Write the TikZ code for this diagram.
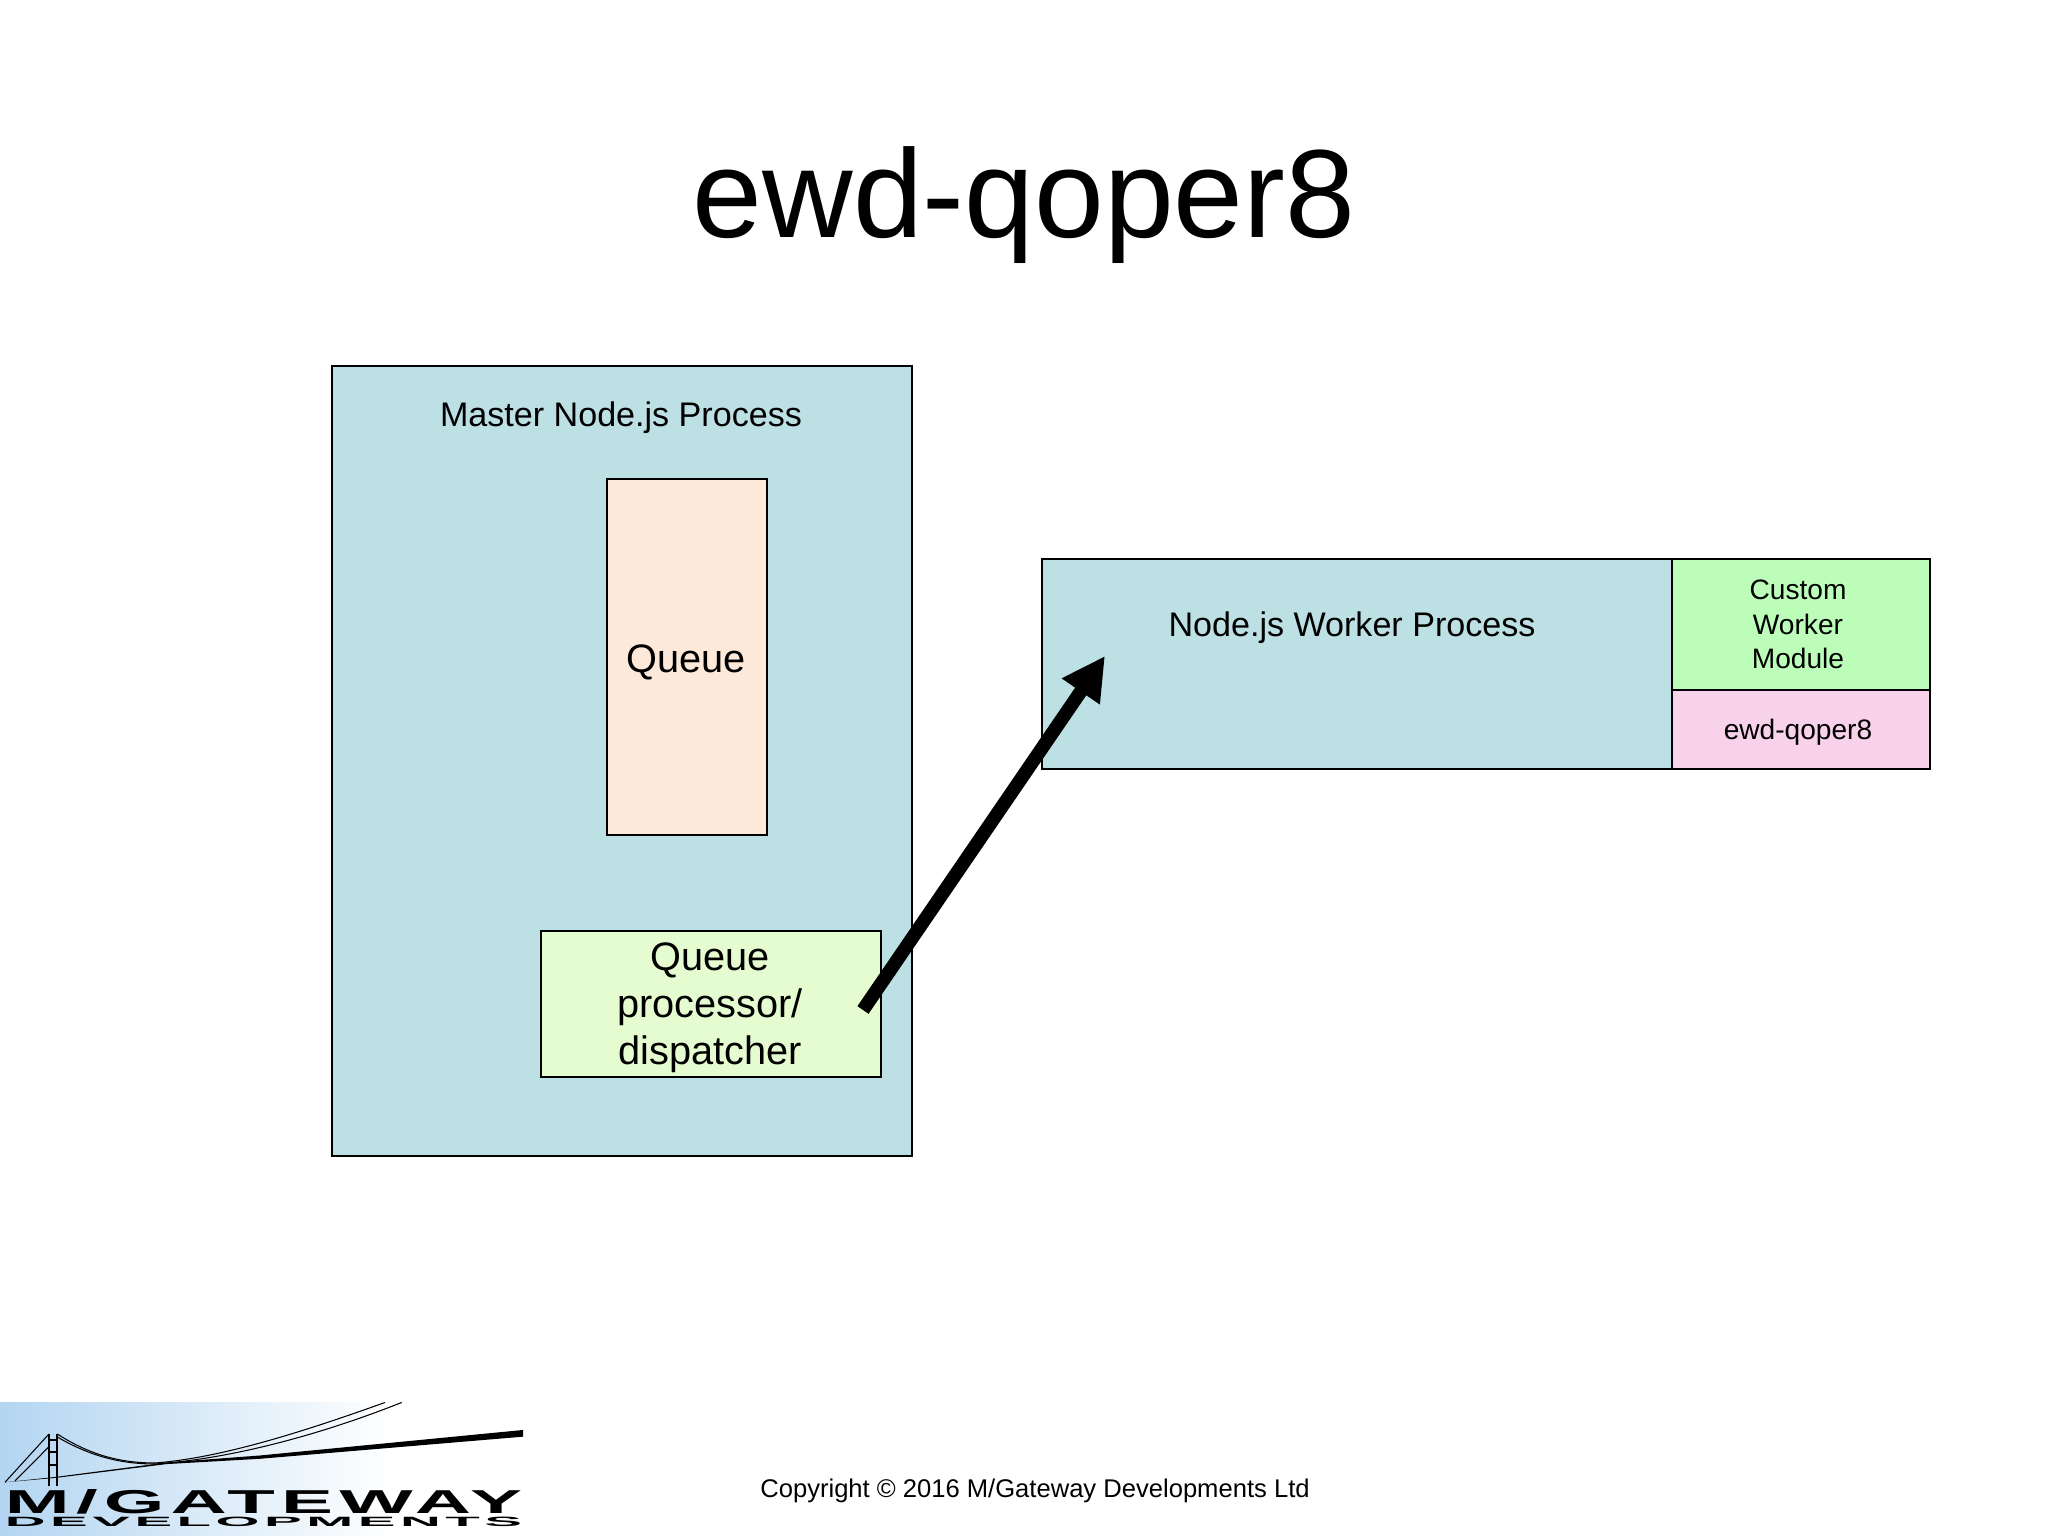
\documentclass[tikz,border=0pt]{standalone}
\usepackage{fontspec}
\setmainfont{Liberation Sans}
\usepackage{tikz}
\usetikzlibrary{arrows.meta}
\definecolor{tealfill}{HTML}{BCE0E3}
\definecolor{queuefill}{HTML}{FCE9D9}
\definecolor{dispfill}{HTML}{E5FBD0}
\definecolor{customfill}{HTML}{BBFDB9}
\definecolor{qoperfill}{HTML}{F7D2EA}
\definecolor{logoblue}{HTML}{B3D5F1}

\begin{document}
\begin{tikzpicture}[every node/.style={inner sep=0pt, outer sep=0pt, align=center}]
  \tikzset{procbox/.style={rectangle, draw=black, line width=0.8pt}}
  \tikzset{sizeA/.style={font=\fontsize{11.3}{13.4}\selectfont}}
  \tikzset{sizeB/.style={font=\fontsize{9.7}{11.5}\selectfont}}
  \tikzset{sizeC/.style={font=\fontsize{8}{9.85}\selectfont}}
  \useasboundingbox (0,0) rectangle (20.48,15.36);

  % top level
  \node[font=\fontsize{35.7}{40}\selectfont] (title) at (10.24, 13.31) {ewd-qoper8};
  \node[procbox, fill=tealfill, minimum width=5.80cm, minimum height=7.90cm] (master) at (6.22, 7.75) {};
  \node[sizeB] (masterlabel) at (6.21, 11.18) {Master Node.js Process};
  \node[procbox, fill=queuefill, minimum width=1.60cm, minimum height=3.56cm] (queue) at (6.87, 8.79) {};
  \node[sizeA] (queuelabel) at (6.86, 8.74) {Queue};
  \node[procbox, fill=dispfill, minimum width=3.40cm, minimum height=1.46cm] (disp) at (7.11, 5.32) {};
  \node[sizeA] (displabel) at (7.10, 5.28) {Queue\\processor/\\dispatcher};
  \node[procbox, fill=tealfill, minimum width=6.30cm, minimum height=2.10cm] (worker) at (13.57, 8.72) {};
  \node[sizeB] (workerlabel) at (13.52, 9.08) {Node.js Worker Process};
  \node[procbox, fill=customfill, minimum width=2.58cm, minimum height=1.31cm] (custom) at (18.01, 9.115) {};
  \node[sizeC] (customlabel) at (17.98, 9.115) {Custom\\Worker\\Module};
  \node[procbox, fill=qoperfill, minimum width=2.58cm, minimum height=0.79cm] (qoper) at (18.01, 8.065) {};
  \node[sizeC] (qoperlabel) at (17.98, 8.04) {ewd-qoper8};

  % arrow
  \coordinate (dispout) at (8.63, 5.26);
  \coordinate (workerin) at (11.05, 8.80);
  \draw[-{Triangle[length=0.43cm, width=0.43cm]}, line width=0.135cm] (dispout) -- (workerin);

  % footer
  \node[font=\fontsize{7.28}{9}\selectfont] (copyright) at (10.35, 0.45) {Copyright © 2016 M/Gateway Developments Ltd};

  % logo
  \shade[left color=logoblue, right color=white] (0,0) rectangle (3.9,1.335);
  \fill[black] (0.05,0.537) -- (0.567,0.592) -- (1.667,0.735) -- (2.6,0.805) -- (5.23,1.06) -- (5.23,0.993) -- (2.6,0.772) -- (1.667,0.719) -- (0.567,0.582) -- cycle;
  \draw[line width=0.6pt] (0.49,0.503) -- (0.49,1.02) (0.567,0.503) -- (0.567,1.02);
  \foreach \y in {0.71,0.843,0.96}
    \draw[line width=0.6pt] (0.49,\y) -- (0.567,\y);
  \draw[line width=0.3pt] (0.49,1.02) -- (0.05,0.537);
  \draw[line width=0.3pt] (0.49,0.893) -- (0.15,0.55);
  \draw[line width=0.3pt] (0.573,1.02) .. controls (0.9,0.81) and (1.2,0.73) .. (1.55,0.73) .. controls (2.2,0.78) and (3.0,1.03) .. (3.85,1.335);
  \draw[line width=0.3pt] (0.573,0.99) .. controls (0.9,0.80) and (1.2,0.72) .. (1.55,0.72) .. controls (2.3,0.77) and (3.2,1.01) .. (4.017,1.335);
  \node[anchor=base west] (gateway) at (0.05, 0.227) {\resizebox{5.17cm}{0.24cm}{\bfseries\addfontfeature{LetterSpace=8}M/GATEWAY}};
  \node[anchor=base west] (developments) at (0.05, 0.093) {\resizebox{5.17cm}{0.094cm}{\bfseries\addfontfeature{LetterSpace=8}DEVELOPMENTS}};
\end{tikzpicture}
\end{document}
